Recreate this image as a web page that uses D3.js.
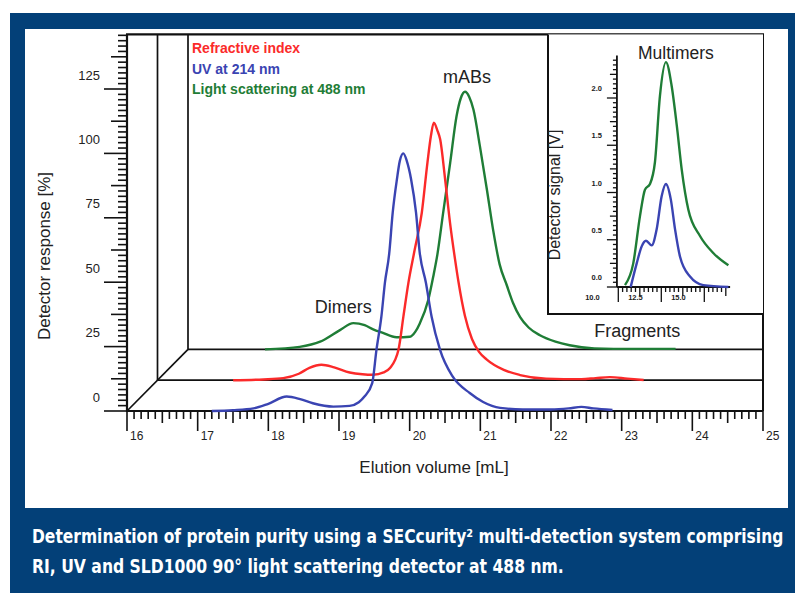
<!DOCTYPE html>
<html>
<head>
<meta charset="utf-8">
<script src="https://cdn.jsdelivr.net/npm/d3@7"></script>
<style>
  html, body { margin: 0; padding: 0; background: #fff; }
  svg { display: block; }
</style>
</head>
<body>
<svg id="chart" width="795" height="593"></svg>
<script>
// ── Data (elution volume [mL], detector response [%]) ─────────────────────────
// each trace is read in its own plane; the stacked 3D offset is applied on draw
const uvSeries = [
  [17.20, 0], [17.5, 0.3], [17.79, 1.0], [18.0, 2.8], [18.26, 5.6], [18.45, 4.6],
  [18.63, 3.0], [18.92, 1.7], [19.15, 2.0], [19.28, 3.4], [19.36, 5.6], [19.47, 10.8],
  [19.53, 23.7], [19.60, 36.7], [19.65, 49.8], [19.71, 61], [19.76, 77], [19.82, 90],
  [19.86, 97], [19.91, 100], [19.96, 97], [20.02, 90], [20.09, 77], [20.14, 62],
  [20.23, 49.8], [20.31, 36.7], [20.43, 23.7], [20.61, 13.3], [20.85, 7.0], [21.04, 3.5],
  [21.28, 1.2], [21.6, 0.6], [22.0, 0.6], [22.25, 1.0], [22.43, 1.6], [22.6, 1.0], [22.87, 0.4],
];
const riSeries = [
  [17.07, 0], [17.5, 0.3], [17.78, 0.8], [18.0, 2.5], [18.15, 4.8], [18.32, 6.0],
  [18.5, 5.0], [18.72, 3.0], [18.9, 2.3], [19.05, 2.1], [19.2, 3.0], [19.29, 4.7],
  [19.41, 11.8], [19.48, 24.8], [19.55, 37.7], [19.64, 50.7], [19.74, 65], [19.82, 84.5],
  [19.87, 95], [19.91, 100], [19.96, 97], [20.0, 93.5], [20.07, 78], [20.14, 61],
  [20.21, 47], [20.26, 38], [20.35, 25], [20.45, 16], [20.55, 11], [20.66, 8],
  [20.9, 4.0], [21.13, 2.0], [21.5, 0.6], [22.0, 0.4], [22.2, 0.8], [22.4, 1.2],
  [22.65, 0.6], [22.88, 0.1],
];
const lsSeries = [
  [17.09, 0], [17.58, 1.0], [17.87, 3.0], [18.15, 7.5], [18.34, 10.2], [18.5, 9.4],
  [18.62, 7.8], [18.75, 6.5], [18.95, 4.7], [19.14, 4.9], [19.22, 7], [19.28, 10.1],
  [19.40, 19.2], [19.47, 28.2], [19.53, 37], [19.61, 52.9], [19.71, 72.4], [19.80, 90.5],
  [19.86, 97.5], [19.92, 100], [19.98, 98], [20.04, 93], [20.13, 79], [20.23, 62],
  [20.32, 46], [20.41, 33], [20.51, 25], [20.6, 18], [20.7, 12.5], [20.82, 8.5],
  [20.98, 5.5], [21.2, 3.0], [21.4, 1.6], [21.75, 0.4], [22.3, 0.2], [22.9, 0.2],
];

// inset: elution [mL] vs detector signal [V]
const insetLS = [
  [11.89, 0.02], [12.37, 0.25], [12.76, 0.75], [13.05, 1.03], [13.34, 1.09], [13.63, 1.32],
  [13.92, 2.02], [14.27, 2.38], [14.60, 2.13], [14.90, 1.71], [15.19, 1.24], [15.57, 0.82],
  [16.25, 0.54], [17.02, 0.36], [17.90, 0.23],
];
const insetUV = [
  [12.22, 0], [12.57, 0.25], [12.86, 0.43], [13.11, 0.49], [13.44, 0.44], [13.73, 0.61],
  [14.02, 0.96], [14.27, 1.09], [14.55, 0.93], [14.80, 0.61], [15.09, 0.32], [15.67, 0.11],
  [16.44, 0.02], [17.90, 0],
];

const xTickLabels      = [16, 17, 18, 19, 20, 21, 22, 23, 24, 25];
const yTickLabels      = [0, 25, 50, 75, 100, 125];
const insetYTickLabels = [0, 0.5, 1.0, 1.5, 2.0];
const insetXTickLabels = [10, 12.5, 15];
const legendLabels     = ['Refractive index', 'UV at 214 nm', 'Light scattering at 488 nm'];
const peakNames        = ['mABs', 'Dimers', 'Fragments', 'Multimers'];
const captionLines = [
  'Determination of protein purity using a SECcurity\u00B2 multi-detection system comprising',
  'RI, UV and SLD1000 90\u00B0 light scattering detector at 488 nm.',
];

// ── Colors / fonts ────────────────────────────────────────────────────────────
const C_RED = '#fb2a2a', C_BLUE = '#3a44b2', C_GREEN = '#1f7d36';
const FRAME = '#034078';
const FONT = '"Liberation Sans", Arial, sans-serif';
const INK = '#222';

const svg = d3.select('#chart');
svg.append('rect').attr('x', 10).attr('y', 13).attr('width', 785).attr('height', 580).attr('fill', FRAME);
svg.append('rect').attr('x', 25).attr('y', 29).attr('width', 763).attr('height', 479).attr('fill', '#fff');

// ── Scales ────────────────────────────────────────────────────────────────────
const x = d3.scaleLinear().domain([16, 25]).range([127, 763]);
const y = d3.scaleLinear().domain([0, 125]).range([411, 89]);
const Y_TOP = 146.2;
const DX = 30.5, DY = -30.8;          // per-layer 3D offset
const g = svg.append('g');

// ── Frame / planes ────────────────────────────────────────────────────────────
const frame = g.append('g').attr('stroke', '#111').attr('fill', 'none');
const line = (x1, y1, x2, y2, w) => frame.append('line')
  .attr('x1', x1).attr('y1', y1).attr('x2', x2).attr('y2', y2).attr('stroke-width', w);

[1, 2].forEach(k => {
  line(x(16) + k * DX, y(Y_TOP), x(16) + k * DX, y(0) + k * DY, 1.7);
  line(x(16) + k * DX, y(0) + k * DY, x(25), y(0) + k * DY, 1.7);
});
line(x(16), y(0), x(16) + 2 * DX, y(0) + 2 * DY, 1.7);
line(x(16) - 1, y(Y_TOP), x(25) + 1, y(Y_TOP), 2.2);
line(x(25), y(Y_TOP), x(25), y(0), 2);
line(x(16), y(Y_TOP), x(16), y(0) + 1, 2.2);
line(x(16), y(0), x(25), y(0), 2.2);

// ── Axes ticks ────────────────────────────────────────────────────────────────
const ticks = g.append('g').attr('stroke', '#111').attr('stroke-width', 1.6);
d3.range(160, 251).forEach(i => {
  const len = i % 10 === 0 ? 20 : i % 5 === 0 ? 12 : 8;
  ticks.append('line').attr('x1', x(i / 10)).attr('x2', x(i / 10))
    .attr('y1', y(0)).attr('y2', y(0) + len);
});
d3.range(0, 71).forEach(i => {
  const len = i % 12 === 0 ? 23 : i % 6 === 0 ? 16 : 9;
  const v = i * 25 / 12;
  ticks.append('line').attr('x1', x(16) - len).attr('x2', x(16))
    .attr('y1', y(v)).attr('y2', y(v));
});

g.append('g').selectAll('text').data(xTickLabels).join('text')
  .attr('x', d => x(d) + 3).attr('y', y(0) + 29)
  .attr('font-family', FONT).attr('font-size', 12).attr('fill', INK)
  .text(d => d);
g.append('g').selectAll('text').data(yTickLabels).join('text')
  .attr('x', 100).attr('y', d => y(d) - 9.5).attr('text-anchor', 'end')
  .attr('font-family', FONT).attr('font-size', 13).attr('fill', INK)
  .text(d => d);

g.append('text').attr('x', 434).attr('y', 473).attr('text-anchor', 'middle')
  .attr('font-family', FONT).attr('font-size', 17).attr('fill', INK)
  .text('Elution volume [mL]');
g.append('text').attr('transform', 'translate(49.5,256) rotate(-90)').attr('text-anchor', 'middle')
  .attr('font-family', FONT).attr('font-size', 17).attr('fill', INK)
  .text('Detector response [%]');

// ── Traces (back to front) ────────────────────────────────────────────────────
const traces = [
  { data: lsSeries, color: C_GREEN, layer: 2 },
  { data: riSeries, color: C_RED,   layer: 1 },
  { data: uvSeries, color: C_BLUE,  layer: 0 },
];
traces.forEach(t => {
  const gen = d3.line()
    .x(d => x(d[0]) + t.layer * DX)
    .y(d => y(d[1]) + t.layer * DY)
    .curve(d3.curveMonotoneX);
  g.append('path').attr('d', gen(t.data)).attr('fill', 'none')
    .attr('stroke', t.color).attr('stroke-width', 2.4).attr('stroke-linejoin', 'round');
});

// ── Legend ────────────────────────────────────────────────────────────────────
const legendColors = [C_RED, C_BLUE, C_GREEN];
g.append('g').selectAll('text').data(legendLabels).join('text')
  .attr('x', 192).attr('y', (d, i) => 53 + i * 20.5)
  .attr('font-family', FONT).attr('font-size', 14).attr('font-weight', 'bold')
  .attr('fill', (d, i) => legendColors[i])
  .text(d => d);

// ── Peak labels (front-plane coordinates) ─────────────────────────────────────
const peakPos = [[20.81, 127.3], [19.06, 38], [23.22, 28.7]];
peakPos.forEach((p, i) => {
  g.append('text').attr('x', x(p[0])).attr('y', y(p[1])).attr('text-anchor', 'middle')
    .attr('font-family', FONT).attr('font-size', 18).attr('fill', INK)
    .text(peakNames[i]);
});

// ── Inset ─────────────────────────────────────────────────────────────────────
const INSET = { left: 548, bottom: 314 };
const ix = d3.scaleLinear().domain([10, 15]).range([592.5, 678.5]);
const iy = d3.scaleLinear().domain([0, 2]).range([287, 98]);
const IX0 = 11.42, IX1 = 18.0, IY1 = 2.45;

const inset = g.append('g');
inset.append('rect').attr('x', INSET.left).attr('y', y(Y_TOP))
  .attr('width', x(25) - INSET.left).attr('height', INSET.bottom - y(Y_TOP)).attr('fill', '#fff');
inset.append('path')
  .attr('d', `M${INSET.left},${y(Y_TOP)} V${INSET.bottom} H${x(25)}`)
  .attr('fill', 'none').attr('stroke', '#111').attr('stroke-width', 2);

const it = inset.append('g').attr('stroke', '#111').attr('stroke-width', 1.3);
it.append('line').attr('x1', ix(IX0)).attr('x2', ix(IX0)).attr('y1', iy(IY1)).attr('y2', iy(0)).attr('stroke-width', 1.8);
it.append('line').attr('x1', ix(IX0)).attr('x2', ix(IX1)).attr('y1', iy(0)).attr('y2', iy(0)).attr('stroke-width', 1.8);
d3.range(0, 49).forEach(i => {
  const len = i % 10 === 0 ? 10 : i % 5 === 0 ? 7 : 4;
  it.append('line').attr('x1', ix(IX0) - len).attr('x2', ix(IX0))
    .attr('y1', iy(i * 0.05)).attr('y2', iy(i * 0.05));
});
d3.range(0, 26).forEach(i => {
  const v = 11.5 + i * 0.25;
  const len = i % 10 === 0 ? 15 : i % 5 === 0 ? 9 : 5;
  it.append('line').attr('x1', ix(v)).attr('x2', ix(v))
    .attr('y1', iy(0)).attr('y2', iy(0) + len);
});

inset.append('g').selectAll('text').data(insetYTickLabels).join('text')
  .attr('x', 602).attr('y', d => iy(d) - 7).attr('text-anchor', 'end')
  .attr('font-family', FONT).attr('font-size', 7.5).attr('font-weight', 'bold').attr('fill', INK)
  .text(d => d.toFixed(1));
inset.append('g').selectAll('text').data(insetXTickLabels).join('text')
  .attr('x', d => ix(d)).attr('y', 300).attr('text-anchor', 'middle')
  .attr('font-family', FONT).attr('font-size', 7.5).attr('font-weight', 'bold').attr('fill', INK)
  .text(d => d.toFixed(1));

inset.append('text').attr('transform', 'translate(560,195) rotate(-90)').attr('text-anchor', 'middle')
  .attr('font-family', FONT).attr('font-size', 16).attr('fill', INK)
  .text('Detector signal [V]');
inset.append('text').attr('x', ix(14.85)).attr('y', iy(2.42) + 0.5).attr('text-anchor', 'middle')
  .attr('font-family', FONT).attr('font-size', 17.5).attr('fill', INK)
  .text(peakNames[3]);

[{ data: insetLS, color: C_GREEN }, { data: insetUV, color: C_BLUE }].forEach(t => {
  const gen = d3.line().x(d => ix(d[0])).y(d => iy(d[1])).curve(d3.curveMonotoneX);
  inset.append('path').attr('d', gen(t.data)).attr('fill', 'none')
    .attr('stroke', t.color).attr('stroke-width', 2.4).attr('stroke-linejoin', 'round');
});

// ── Caption (condensed by a horizontal scale so it fits the frame) ────────────
const capLen = [752, 532];
captionLines.forEach((txt, i) => {
  const t = svg.append('text')
    .attr('font-family', '"Liberation Sans Narrow", "DejaVu Sans Condensed", "Liberation Sans", sans-serif')
    .attr('font-size', 19).attr('font-weight', 'bold').attr('fill', '#fff')
    .text(txt);
  const natural = t.node().getComputedTextLength();
  t.attr('transform', `translate(32,${543 + i * 30}) scale(${capLen[i] / natural},1)`);
});
</script>
</body>
</html>
